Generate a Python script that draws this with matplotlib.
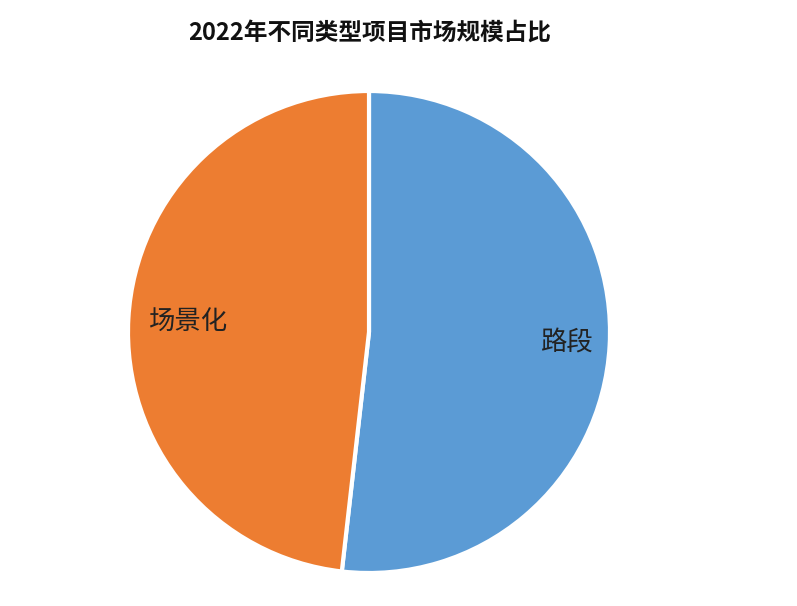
import matplotlib
matplotlib.use("Agg")
import matplotlib.pyplot as plt

plt.rcParams['font.family'] = ['Noto Sans CJK SC', 'DejaVu Sans']

# 2022 market share by project type
labels = ["路段", "场景化"]
shares = [51.8, 48.2]
colors = ["#5B9BD5", "#ED7D31"]
title = "2022年不同类型项目市场规模占比"

W, H = 797, 606
fig = plt.figure(figsize=(W / 100, H / 100), dpi=100)

cx, cy, r = 369, 606 - 332, 241
ax = fig.add_axes([(cx - r) / W, (cy - r) / H, 2 * r / W, 2 * r / H])

wedges, texts = ax.pie(
    shares,
    labels=labels,
    colors=colors,
    startangle=90,
    counterclock=False,
    labeldistance=0.79,
    wedgeprops=dict(edgecolor="white", linewidth=3),
    textprops=dict(fontsize=19, color="#222222", fontweight="light"),
)
# labels sit a little right of the default spot in the original
for t in texts:
    t.set_horizontalalignment("center")
    t.set_verticalalignment("center")
    x, y = t.get_position()
    t.set_position((x + 0.035, y))

ax.set_xlim(-1, 1)
ax.set_ylim(-1, 1)
ax.set_aspect("equal")
ax.axis("off")

fig.text(370 / W, 1 - 33 / H, title, ha="center", va="center",
         fontsize=17, fontweight="bold", color="#111111")

fig.savefig("out.png", dpi=100)
